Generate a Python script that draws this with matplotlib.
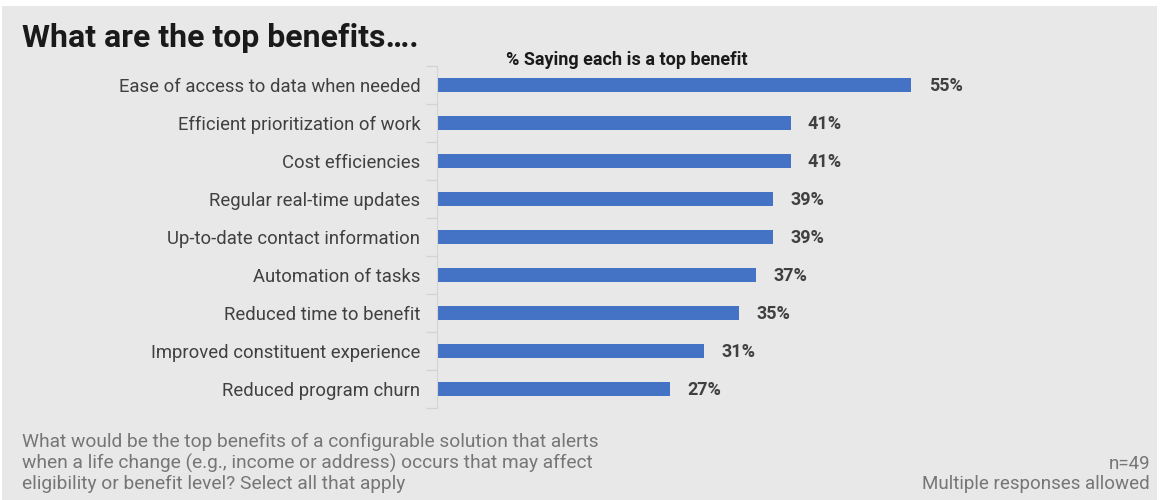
import numpy as np
import matplotlib.pyplot as plt
from matplotlib.patches import Rectangle

plt.rcParams['font.family'] = ['Roboto', 'DejaVu Sans']

# Data
categories = ["Ease of access to data when needed",
              "Efficient prioritization of work",
              "Cost efficiencies",
              "Regular real-time updates",
              "Up-to-date contact information",
              "Automation of tasks",
              "Reduced time to benefit",
              "Improved constituent experience",
              "Reduced program churn"]
values = [55, 41, 41, 39, 39, 37, 35, 31, 27]

bg = "#e8e8e8"
bar_color = "#4472c4"
text_dark = "#404040"
text_gray = "#767676"

fig = plt.figure(figsize=(11.6, 5.0), dpi=100, facecolor="white")
# gray card behind everything
fig.patches.append(Rectangle((2 / 1160, 0), 1155 / 1160, 494 / 500,
                             transform=fig.transFigure, facecolor=bg,
                             edgecolor="none", zorder=-10))

ax = fig.add_axes([437 / 1160, 92 / 500, 690 / 1160, 342 / 500])
ax.set_facecolor("none")

y = np.arange(len(categories))
ax.barh(y, values, height=0.35, color=bar_color)
ax.set_ylim(len(categories) - 0.5, -0.5)
ax.set_xlim(0, 80)

for yi, v in zip(y, values):
    ax.text(v + 2, yi + 0.03, f"{v}%", va="center", ha="left", fontsize=13,
            fontweight="bold", color=text_dark)

ax.set_yticks(y)
ax.set_yticklabels(categories, fontsize=13.3, color=text_dark)
ax.tick_params(axis="y", length=0, pad=12)
ax.set_yticks(np.arange(-0.5, len(categories)), minor=True)
ax.tick_params(axis="y", which="minor", length=8, color="#d4d4d4", width=1)
ax.set_xticks([])

for s in ["top", "right", "bottom"]:
    ax.spines[s].set_visible(False)
ax.spines["left"].set_color("#d4d4d4")

# titles
fig.text(22 / 1160, 1 - 38 / 500, "What are the top benefits….", fontsize=23,
         fontweight="bold", color="#1a1a1a", va="center", ha="left")
fig.text(627 / 1160, 1 - 60 / 500, "% Saying each is a top benefit", fontsize=13,
         fontweight="bold", color="#1a1a1a", va="center", ha="center")

# footer
fig.text(22 / 1160, 1 - 463 / 500,
         "What would be the top benefits of a configurable solution that alerts\n"
         "when a life change (e.g., income or address) occurs that may affect\n"
         "eligibility or benefit level? Select all that apply",
         fontsize=13.8, color=text_gray, va="center", ha="left", linespacing=1.17)
fig.text(1150 / 1160, 1 - 474 / 500, "n=49\nMultiple responses allowed",
         fontsize=13.5, color=text_gray, va="center", ha="right", linespacing=1.19)

fig.savefig("out.png", dpi=100, facecolor=fig.get_facecolor())
